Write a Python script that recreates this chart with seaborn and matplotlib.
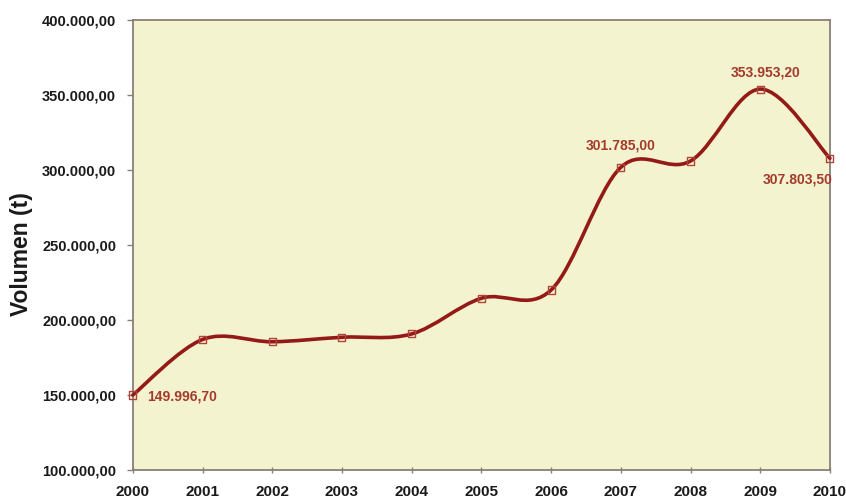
import numpy as np
import pandas as pd
import matplotlib
matplotlib.use("Agg")
import matplotlib.pyplot as plt
from matplotlib.path import Path
from matplotlib.patches import PathPatch
from matplotlib.ticker import FuncFormatter
import seaborn as sns

years = [2000, 2001, 2002, 2003, 2004, 2005, 2006, 2007, 2008, 2009, 2010]
volumes = [149996.70, 187000.0, 185500.0, 188500.0, 190700.0, 214500.0, 220000.0,
           301785.00, 306000.0, 353953.20, 307803.50]
labeled = {2000: "149.996,70", 2007: "301.785,00", 2009: "353.953,20", 2010: "307.803,50"}
y_ticks = [100000, 150000, 200000, 250000, 300000, 350000, 400000]

sns.set_theme(style="white")
plt.rcParams['font.family'] = ['Liberation Sans', 'DejaVu Sans']

LINE = "#931a16"
LABEL = "#a33a2c"

df = pd.DataFrame({"year": years, "vol": volumes})

fig = plt.figure(figsize=(8.46, 5.0), dpi=100)
ax = fig.add_axes([0.157, 0.06, 0.824, 0.90])
ax.set_facecolor("#f4f3cf")

# smooth bezier curve through points (Excel-like smoothing)
x = np.array(years, dtype=float)
y = np.array(volumes, dtype=float)
verts = [(x[0], y[0])]
codes = [Path.MOVETO]
n = len(x)
for i in range(n - 1):
    x0, y0 = (x[i - 1], y[i - 1]) if i > 0 else (x[i], y[i])
    x3, y3 = (x[i + 2], y[i + 2]) if i + 2 < n else (x[i + 1], y[i + 1])
    c1 = (x[i] + (x[i + 1] - x0) / 6, y[i] + (y[i + 1] - y0) / 6)
    c2 = (x[i + 1] - (x3 - x[i]) / 6, y[i + 1] - (y3 - y[i]) / 6)
    verts += [c1, c2, (x[i + 1], y[i + 1])]
    codes += [Path.CURVE4] * 3
patch = PathPatch(Path(verts, codes), facecolor="none", edgecolor=LINE, lw=2.6,
                  capstyle="round", joinstyle="round", zorder=3, clip_on=False)
ax.add_patch(patch)

sns.scatterplot(data=df, x="year", y="vol", ax=ax, marker="s", s=26,
                facecolor="none", edgecolor="#b0443a", linewidth=1.0, zorder=4,
                clip_on=False, legend=False)

ax.set_xlim(2000, 2010)
ax.set_ylim(100000, 400000)
ax.set_xticks(years)
ax.set_yticks(y_ticks)
ax.yaxis.set_major_formatter(FuncFormatter(
    lambda v, p: f"{v:,.2f}".replace(",", "X").replace(".", ",").replace("X", ".")))
ax.tick_params(axis="x", which="major", length=5, width=1, color="#8a7f76",
               labelsize=11, direction="inout", bottom=True, pad=8)
ax.tick_params(axis="y", which="major", length=4, width=1, color="#8a7f76",
               labelsize=10.5, direction="out", left=True, pad=8)
for lab in ax.get_xticklabels() + ax.get_yticklabels():
    lab.set_fontweight("bold")
    lab.set_color("#1a1a1a")
ax.set_xlabel("")
ax.set_ylabel("Volumen (t)", fontsize=16.5, fontweight="bold", color="#1a1a1a")
ax.yaxis.set_label_coords(-0.1435, 0.48)
for s in ax.spines.values():
    s.set_color("#8a7f76")
    s.set_linewidth(1.3)

def add_label(yr, txt, dx, dy, ha, va):
    ax.annotate(txt, xy=(yr, volumes[years.index(yr)]), xytext=(dx, dy),
                textcoords="offset points", ha=ha, va=va, fontsize=10,
                fontweight="bold", color=LABEL, zorder=5, annotation_clip=False)

add_label(2000, labeled[2000], 10, -1, "left", "center")
add_label(2007, labeled[2007], 0, 16, "center", "center")
add_label(2009, labeled[2009], 4, 12, "center", "center")
add_label(2010, labeled[2010], 2, -15, "right", "center")

fig.savefig("out.png", dpi=100, facecolor="white")
